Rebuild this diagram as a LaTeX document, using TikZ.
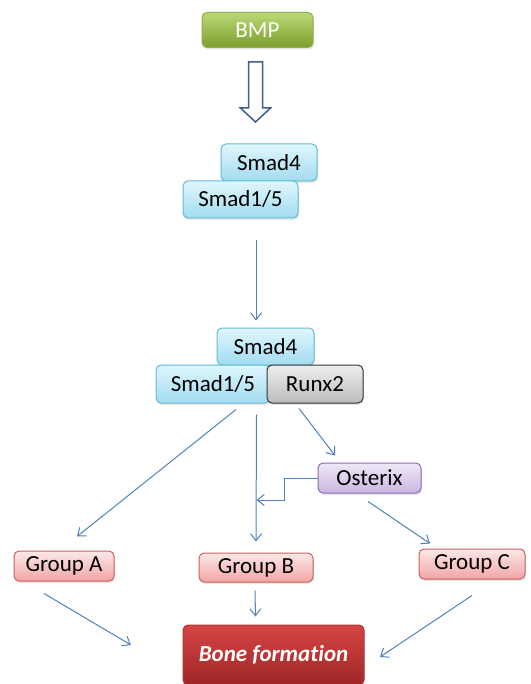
\documentclass[tikz,border=0pt]{standalone}
\usepackage{fontspec}
\setmainfont[Ligatures=NoCommon]{Carlito}
\usepackage{tikz}
\usetikzlibrary{calc,arrows.meta,shadows}
\definecolor{arrc}{HTML}{4F81BD}
\definecolor{hollowc}{HTML}{3D5E8E}
\definecolor{cyantop}{HTML}{E0F6FD}
\definecolor{cyanbot}{HTML}{A2DCF0}
\definecolor{cyanedge}{HTML}{62BCD7}
\definecolor{graytop}{HTML}{EFEFEF}
\definecolor{graybot}{HTML}{BBBBBB}
\definecolor{purptop}{HTML}{EFE8F7}
\definecolor{purpbot}{HTML}{C8B6E0}
\definecolor{purpedge}{HTML}{8C6DB0}
\definecolor{pinktop}{HTML}{FDE8E8}
\definecolor{pinkbot}{HTML}{F2A5A5}
\definecolor{pinkedge}{HTML}{C9625D}
\definecolor{grntop}{HTML}{BBD977}
\definecolor{grnbot}{HTML}{7C9E2C}
\definecolor{grnedge}{HTML}{8EAE48}
\definecolor{bonetop}{HTML}{D64444}
\definecolor{bonebot}{HTML}{9E2626}
\definecolor{boneedge}{HTML}{B33232}
\tikzset{
  ar/.style={-{Straight Barb[length=7pt,width=11pt]},line width=1pt,arrc},
  bx/.style={rounded corners=5pt,inner sep=0pt,line width=1pt,font=\fontsize{23}{27}\selectfont,
    drop shadow={opacity=0.2,shadow xshift=1pt,shadow yshift=-2pt}},
  smadbox/.style={bx,draw=cyanedge,top color=cyantop,bottom color=cyanbot},
  runxbox/.style={bx,draw=black!80,top color=graytop,bottom color=graybot},
  osxbox/.style={bx,draw=purpedge,top color=purptop,bottom color=purpbot},
  grpbox/.style={bx,draw=pinkedge,top color=pinktop,bottom color=pinkbot},
  bmpbox/.style={bx,draw=grnedge,top color=grntop,bottom color=grnbot,text=white},
  bonebox/.style={bx,draw=boneedge,top color=bonetop,bottom color=bonebot,text=white,
    font=\fontsize{23}{27}\selectfont\bfseries\itshape}
}
\begin{document}
\begin{tikzpicture}[x=1pt,y=-1pt]
\useasboundingbox (0,0) rectangle (530,684);
\node[bmpbox,minimum width=111pt,minimum height=35pt] (bmp) at (257.5,30) {BMP};
% hollow arrow
\draw[hollowc,line width=1.5pt,fill=white,line join=miter]
  ($(bmp.south)+(-9,14)$) -- ++(14,0) -- ++(0,46) -- ++(8,0) -- ++(-15,14)
  -- ++(-15,-14) -- ++(8,0) -- cycle;
\node[smadbox,minimum width=96pt,minimum height=37pt] (s4a) at (269,162.5) {Smad4};
\node[smadbox,minimum width=115pt,minimum height=37pt] (s15a) at (240.5,199.5) {Smad1/5};
\node[smadbox,minimum width=97pt,minimum height=37pt] (s4b) at (265.5,346.5) {Smad4};
\node[smadbox,minimum width=114pt,minimum height=38pt] (s15b) at (213,384) {Smad1/5};
\node[runxbox,minimum width=96pt,minimum height=38pt] (runx) at (315,384) {Runx2};
\node[osxbox,minimum width=103pt,minimum height=30pt] (osx) at (369.5,478) {Osterix};
\node[grpbox,minimum width=100pt,minimum height=30pt] (grpA) at (64,566) {Group A};
\node[grpbox,minimum width=114pt,minimum height=29pt] (grpB) at (256,567.5) {Group B};
\node[grpbox,minimum width=106pt,minimum height=30pt] (grpC) at (472,564) {Group C};
\node[bonebox,minimum width=181pt,minimum height=60pt] (bone) at (273.5,655) {Bone formation};
% connectors
\draw[ar] ($(s15a.south)+(15.5,22)$) -- ($(s4b.north)+(-9.5,-7)$);
\draw[ar] ($(s15b.south)+(23,6)$) -- ($(grpA.north)+(13,-14)$);
\draw[ar] ($(s15b.south east)+(-14,11)$) -- ($(grpB.north)+(0,-11)$);
\draw[ar] ($(runx.south)+(-16,5)$) -- ($(osx.north)+(-34.5,-7)$);
\draw[ar] (osx.west) -- ++(-33,0) -- ++(0,22) -- ++(-28,0);
\draw[ar] ($(osx.south)+(-1.5,8)$) -- ($(grpC.north)+(-42,-5)$);
\draw[ar] ($(grpA.south)+(-20,12)$) -- ($(bone.west)+(-51.5,-10)$);
\draw[ar] ($(grpB.south)+(-1,8)$) -- ($(bone.north)+(-18,-8)$);
\draw[ar] ($(grpC.south)+(0,16)$) -- ($(bone.east)+(15.5,2)$);
\end{tikzpicture}
\end{document}
